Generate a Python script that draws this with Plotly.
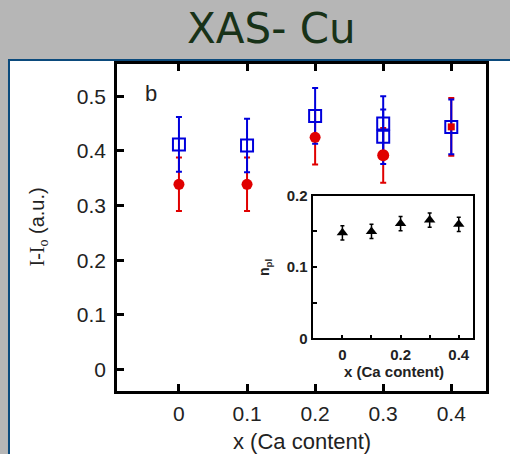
import plotly.graph_objects as go

# ---- data ----
blue_x = [0, 0.1, 0.2, 0.3, 0.3, 0.4]
blue_y = [0.412, 0.410, 0.464, 0.450, 0.426, 0.444]
blue_err = [0.050, 0.049, 0.051, 0.050, 0.050, 0.050]

red_x = [0, 0.1, 0.2, 0.3, 0.4]
red_y = [0.339, 0.339, 0.425, 0.392, 0.444]
red_err = [0.049, 0.049, 0.050, 0.050, 0.053]
red_symbols = ["circle", "circle", "circle", "circle", "square"]
red_sizes = [11, 11, 11, 12, 7]

inset_x = [0, 0.1, 0.2, 0.3, 0.4]
inset_y = [0.148, 0.150, 0.161, 0.166, 0.160]
inset_err = [0.010, 0.010, 0.010, 0.010, 0.010]

main_xticks = [0, 0.1, 0.2, 0.3, 0.4]
main_yticks = [0, 0.1, 0.2, 0.3, 0.4, 0.5]
inset_xticks = [0, 0.1, 0.2, 0.3, 0.4]
inset_xtext = ["0", "", "0.2", "", "0.4"]
inset_yticks = [0, 0.05, 0.1, 0.15, 0.2]
inset_ytext = ["0", "", "0.1", "", "0.2"]

BLUE = "#0000dc"
RED = "#e00000"

fig = go.Figure()

# red error bars (under blue)
fig.add_trace(go.Scatter(
    x=red_x, y=red_y, mode="markers",
    marker=dict(size=1, color="rgba(0,0,0,0)"),
    error_y=dict(type="data", array=red_err, color=RED, thickness=2, width=3),
    showlegend=False, hoverinfo="skip"))

# blue open squares with error bars
fig.add_trace(go.Scatter(
    x=blue_x, y=blue_y, mode="markers",
    marker=dict(symbol="square-open", size=12, color=BLUE, opacity=1,
                line=dict(width=2, color=BLUE)),
    error_y=dict(type="data", array=blue_err, color=BLUE, thickness=2, width=3),
    showlegend=False))

# red markers on top
fig.add_trace(go.Scatter(
    x=red_x, y=red_y, mode="markers",
    marker=dict(symbol=red_symbols, size=red_sizes, color=RED, opacity=1, line=dict(width=0)),
    showlegend=False))

# inset
fig.add_trace(go.Scatter(
    x=inset_x, y=inset_y, mode="markers", xaxis="x2", yaxis="y2",
    marker=dict(symbol="triangle-up", size=10, color="black", opacity=1),
    error_y=dict(type="data", array=inset_err, color="black", thickness=1.5, width=2),
    showlegend=False))

fig.update_layout(
    width=510, height=454,
    margin=dict(l=117, r=24, t=64, b=63),
    paper_bgcolor="#b6b6b6",
    plot_bgcolor="white",
    font=dict(family="Liberation Sans, Arial, sans-serif", color="#222"),
    xaxis=dict(
        range=[-0.091, 0.451], tickvals=main_xticks, ticktext=[str(v) for v in main_xticks],
        ticks="inside", ticklen=7, tickwidth=2.5, tickcolor="black",
        showline=True, linewidth=2.5, linecolor="black", mirror="ticks",
        showgrid=False, zeroline=False,
        tickfont=dict(size=21, color="#222"), ticklabelstandoff=2),
    yaxis=dict(
        range=[-0.039, 0.559], tickvals=main_yticks, ticktext=[str(v) for v in main_yticks],
        ticks="inside", ticklen=7, tickwidth=2.5, tickcolor="black",
        showline=True, linewidth=2.5, linecolor="black", mirror=True,
        showgrid=False, zeroline=False,
        tickfont=dict(size=21, color="#222"), ticklabelstandoff=4),
    xaxis2=dict(
        domain=[0.532, 0.9656], anchor="y2",
        range=[-0.1, 0.45], tickvals=inset_xticks, ticktext=inset_xtext,
        ticks="inside", ticklen=4, tickwidth=1.5, tickcolor="black",
        showline=True, linewidth=1.5, linecolor="black", mirror=True,
        showgrid=False, zeroline=False,
        tickfont=dict(size=15, color="#222", weight="bold"), ticklabelstandoff=2),
    yaxis2=dict(
        domain=[0.161, 0.597], anchor="x2",
        range=[0, 0.2], tickvals=inset_yticks, ticktext=inset_ytext,
        ticks="inside", ticklen=4, tickwidth=1.5, tickcolor="black",
        showline=True, linewidth=1.5, linecolor="black", mirror=True,
        showgrid=False, zeroline=False,
        tickfont=dict(size=15, color="#222", weight="bold"), ticklabelstandoff=1),
)

# white slide panel with blue border
fig.add_shape(type="rect", xref="paper", yref="paper",
              x0=-0.2927, x1=1.08, y0=-0.22, y1=1.0122,
              fillcolor="white", line=dict(color="#0b4a7c", width=2), layer="below")

# inset white background
fig.add_shape(type="rect", xref="x2 domain", yref="y2 domain",
              x0=0, x1=1, y0=0, y1=1, fillcolor="white",
              line=dict(width=0), layer="below")

annotations = [
    dict(text="XAS- Cu", x=0.42, y=1.110, xref="paper", yref="paper",
         xanchor="center", yanchor="middle", showarrow=False,
         font=dict(family="DejaVu Sans", size=42, color="#183218")),
    dict(text="<span style='font-family:Liberation Serif'>I-I<sub>o</sub></span> (a.u.)",
         x=-0.214, y=0.5, xref="paper", yref="paper", textangle=-90,
         xanchor="center", yanchor="middle", showarrow=False,
         font=dict(size=20, color="#222")),
    dict(text="x (Ca content)", x=0.5, y=-0.153, xref="paper", yref="paper",
         xanchor="center", yanchor="middle", showarrow=False,
         font=dict(size=22, color="#222")),
    dict(text="b", x=0.092, y=0.911, xref="paper", yref="paper",
         xanchor="center", yanchor="middle", showarrow=False,
         font=dict(size=22, color="#222")),
    dict(text="x (Ca content)", x=0.750, y=(391 - 371.5) / 327, xref="paper", yref="paper",
         xanchor="center", yanchor="middle", showarrow=False,
         font=dict(size=15, color="#222", weight="bold")),
    dict(text="n<sub>pl</sub>", x=(265 - 117) / 369, y=0.379, xref="paper", yref="paper",
         textangle=-90, xanchor="center", yanchor="middle", showarrow=False,
         font=dict(size=14, color="#222", weight="bold")),
]
fig.update_layout(annotations=annotations)

fig.write_html("out.html",
               config={"displayModeBar": False},
               post_script="document.body.style.margin='0';document.body.style.padding='0';")
